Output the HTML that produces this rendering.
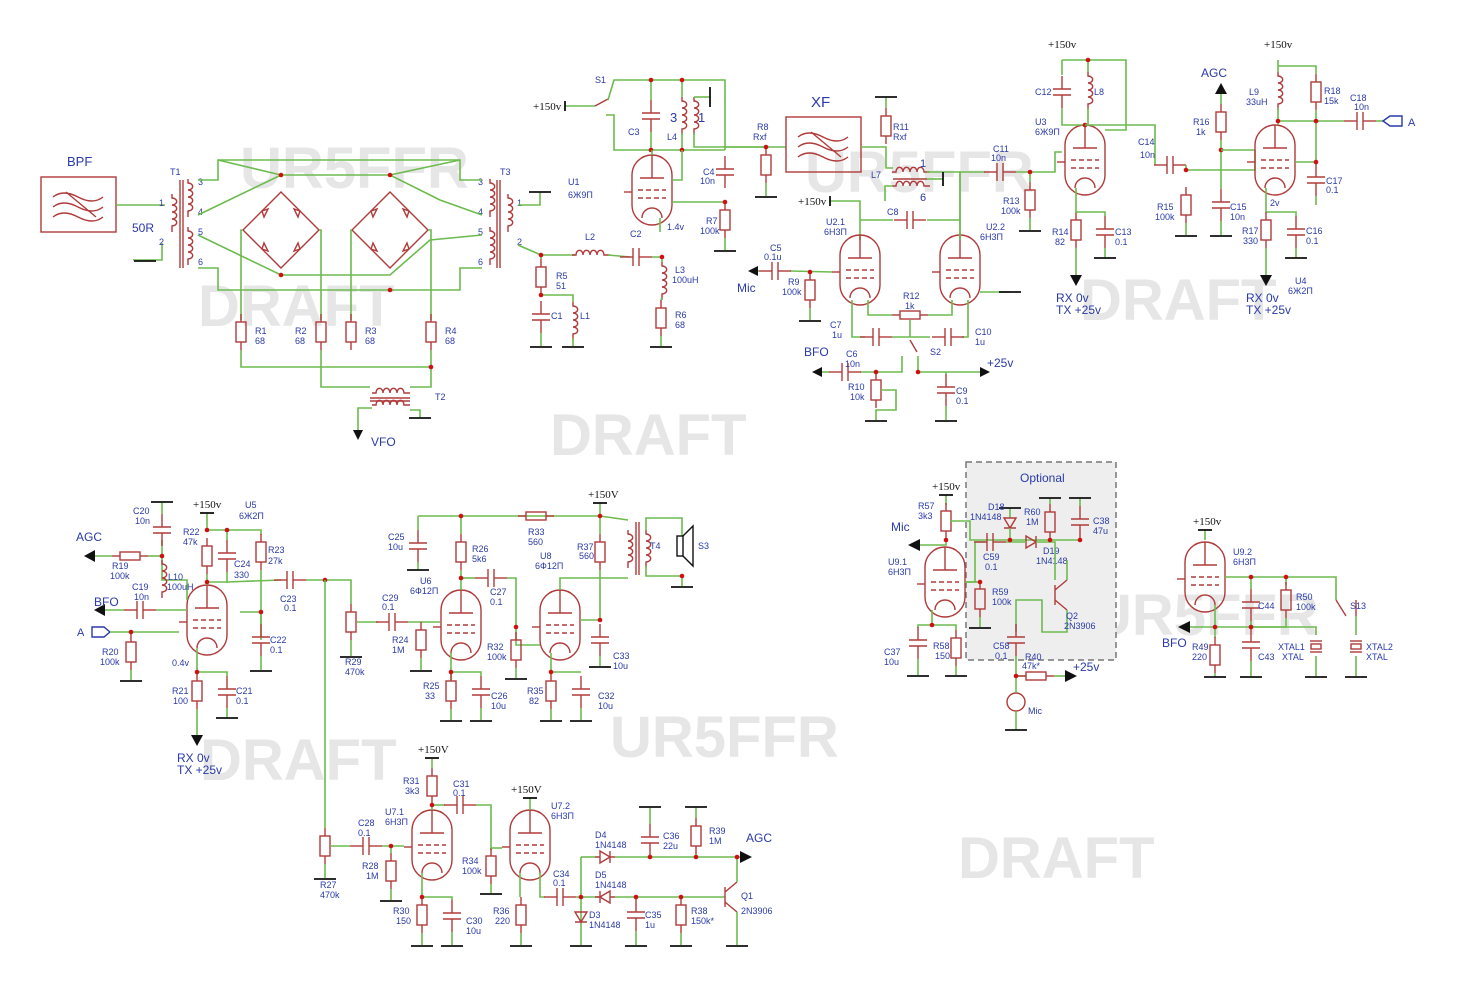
<!DOCTYPE html>
<html><head><meta charset="utf-8"><style>
html,body{margin:0;padding:0;background:#fff}
svg{display:block}
.w{stroke:#6cbb4e;stroke-width:1.6;fill:none}
.c{stroke:#b03a3a;stroke-width:1.4;fill:none}
.k{stroke:#111;stroke-width:1.8;fill:none}
.t{font-family:"Liberation Sans",sans-serif;font-size:9px;fill:#2a3aa8}
.b{font-family:"Liberation Sans",sans-serif;font-size:13px;fill:#2a3aa8}
.m{font-family:"Liberation Serif",serif;font-size:11px;fill:#111}
.wm{font-family:"Liberation Sans",sans-serif;font-size:58px;font-weight:bold;fill:#e6e6e6}
</style></head><body>
<svg width="1467" height="996" viewBox="0 0 1467 996" xmlns="http://www.w3.org/2000/svg">
<defs>
<g id="rv"><line class="c" x1="0" y1="-18" x2="0" y2="-10"/><rect class="c" x="-5" y="-10" width="10" height="20"/><line class="c" x1="0" y1="10" x2="0" y2="18"/></g>
<g id="rh"><line class="c" x1="-18" y1="0" x2="-10" y2="0"/><rect class="c" x="-10" y="-4" width="20" height="8"/><line class="c" x1="10" y1="0" x2="18" y2="0"/></g>
<g id="cv"><line class="c" x1="0" y1="-16" x2="0" y2="-3"/><line class="c" x1="-9" y1="-3" x2="9" y2="-3"/><line class="c" x1="-9" y1="3" x2="9" y2="3"/><line class="c" x1="0" y1="3" x2="0" y2="16"/></g>
<g id="ch"><line class="c" x1="-16" y1="0" x2="-3" y2="0"/><line class="c" x1="-3" y1="-9" x2="-3" y2="9"/><line class="c" x1="3" y1="-9" x2="3" y2="9"/><line class="c" x1="3" y1="0" x2="16" y2="0"/></g>
<g id="tube"><path class="c" d="M-20,-15 A20,20 0 0 1 20,-15 L20,15 A20,20 0 0 1 -20,15 Z"/><line class="c" x1="-12" y1="-12" x2="12" y2="-12"/><line class="c" x1="0" y1="-12" x2="0" y2="-35"/><line class="c" stroke-dasharray="5,3" x1="-14" y1="0" x2="14" y2="0"/><line class="c" stroke-dasharray="5,3" x1="-14" y1="8" x2="14" y2="8"/><path class="c" d="M-10,28 A10,10 0 0 1 10,28"/><line class="c" x1="-28" y1="2" x2="-20" y2="2"/></g>
<g id="gnd"><line class="k" x1="-11" y1="0" x2="11" y2="0"/></g>
<g id="lv"><path class="c" d="M0,-18 v4 a4,3 0 0 1 0,7 a4,3 0 0 1 0,7 a4,3 0 0 1 0,7 a4,3 0 0 1 0,7 v6"/></g>
<g id="lh"><path class="c" d="M-18,0 h4 a3,4 0 0 1 7,0 a3,4 0 0 1 7,0 a3,4 0 0 1 7,0 a3,4 0 0 1 7,0 h6"/></g>
<g id="dot"><circle r="2.3" fill="#d01010"/></g>
<g id="filt"><rect class="c" x="0" y="0" width="75" height="55" fill="#fff"/><path class="c" d="M12,20 q10,-8 25,0 t25,0 M12,30 q10,-8 25,0 t25,0 M12,40 q10,-8 25,0 t25,0"/><line class="c" x1="25" y1="15" x2="55" y2="40"/></g>
<g id="dia"><path class="c" d="M0,-38 L38,0 L0,38 L-38,0 Z"/><path class="c" d="M-19,-19 l6,-2 l-4,8 z M19,-19 l-6,-2 l4,8z M-19,19 l6,2 l-4,-8z M19,19 l-6,2 l4,-8z"/></g>
</defs>

<!-- watermarks -->
<text class="wm" x="240" y="188">UR5FFR</text>
<text class="wm" x="198" y="326">DRAFT</text>
<text class="wm" x="805" y="192">UR5FFR</text>
<text class="wm" x="550" y="455">DRAFT</text>
<text class="wm" x="1080" y="320">DRAFT</text>
<text class="wm" x="200" y="780">DRAFT</text>
<text class="wm" x="610" y="757">UR5FFR</text>
<text class="wm" x="1090" y="635">UR5FFR</text>
<text class="wm" x="958" y="878">DRAFT</text>

<!-- optional box -->
<rect x="966" y="462" width="150" height="198" fill="#eeeeee" stroke="#777" stroke-width="1.5" stroke-dasharray="6,4"/>
<text class="b" x="1020" y="482" style="font-size:12px">Optional</text>

<!-- ===== Section 1: BPF / mixer ===== -->
<use href="#filt" x="41" y="177"/>
<text class="b" x="67" y="166">BPF</text><text class="b" x="132" y="232" style="font-size:12px">50R</text>
<polyline class="w" points="116,205 165,205"/><polyline class="w" points="133,260 162,260 162,243"/>
<use href="#gnd" x="145" y="261"/>
<use href="#lv" x="172" y="212"/><use href="#lv" x="188" y="197"/><use href="#lv" x="188" y="245"/>
<line class="c" x1="180" y1="180" x2="180" y2="268"/><line class="c" x1="183" y1="180" x2="183" y2="268"/>
<text class="t" x="170" y="175">T1</text><text class="t" x="159" y="206">1</text><text class="t" x="159" y="245">2</text>
<text class="t" x="198" y="185">3</text><text class="t" x="198" y="215">4</text><text class="t" x="198" y="235">5</text><text class="t" x="198" y="265">6</text>
<use href="#lv" x="490" y="197"/><use href="#lv" x="490" y="245"/><use href="#lv" x="508" y="212"/>
<line class="c" x1="497" y1="180" x2="497" y2="268"/><line class="c" x1="500" y1="180" x2="500" y2="268"/>
<text class="t" x="500" y="175">T3</text><text class="t" x="478" y="185">3</text><text class="t" x="478" y="215">4</text><text class="t" x="478" y="235">5</text><text class="t" x="478" y="265">6</text><text class="t" x="517" y="206">1</text><text class="t" x="517" y="245">2</text>
<polyline class="w" points="198,180 218,180 218,160 460,160 460,180 482,180"/>
<polyline class="w" points="198,268 218,268 218,290 460,290 460,268 482,268"/>
<polyline class="w" points="198,215 281,175 390,175 440,200 482,215"/>
<polyline class="w" points="198,235 281,275 350,275 390,275 430,240 482,235"/>
<polyline class="w" points="218,160 281,175"/><polyline class="w" points="460,160 390,175"/>
<use href="#dia" x="281" y="230"/><use href="#dia" x="390" y="230"/>
<polyline class="w" points="243,230 241,230 241,320"/><polyline class="w" points="319,230 321,230 321,320"/>
<polyline class="w" points="352,230 351,230 351,320"/><polyline class="w" points="428,230 431,230 431,320"/>
<use href="#rv" x="241" y="332"/><use href="#rv" x="321" y="332"/><use href="#rv" x="351" y="332"/><use href="#rv" x="431" y="332"/>
<text class="t" x="255" y="334">R1</text><text class="t" x="255" y="344">68</text><text class="t" x="295" y="334">R2</text><text class="t" x="295" y="344">68</text>
<text class="t" x="365" y="334">R3</text><text class="t" x="365" y="344">68</text><text class="t" x="445" y="334">R4</text><text class="t" x="445" y="344">68</text>
<polyline class="w" points="241,350 241,367 431,367 431,350"/><polyline class="w" points="321,350 321,387 370,387"/><polyline class="w" points="431,367 431,387 410,387"/>
<use href="#dot" x="281" y="175"/><use href="#dot" x="390" y="175"/><use href="#dot" x="281" y="275"/><use href="#dot" x="390" y="290"/><use href="#dot" x="431" y="367"/>
<use href="#lh" x="390" y="393"/><line class="c" x1="370" y1="398" x2="410" y2="398"/><line class="c" x1="370" y1="401" x2="410" y2="401"/><use href="#lh" x="390" y="405"/>
<text class="t" x="435" y="400">T2</text>
<polyline class="w" points="372,408 358,408 358,430"/><polygon points="353,430 363,430 358,440" fill="#111"/><text class="b" x="371" y="446" style="font-size:12px">VFO</text>
<polyline class="w" points="410,410 420,410 420,418"/><use href="#gnd" x="420" y="418"/>

<!-- S1 / U1 -->
<polyline class="w" points="518,205 540,205 540,192"/><use href="#gnd" x="540" y="192"/>
<polyline class="w" points="518,245 541,255 575,255"/><use href="#lh" x="590" y="255"/>
<polyline class="w" points="608,255 630,257"/><use href="#ch" x="636" y="257"/><polyline class="w" points="652,257 662,257 662,262"/>
<text class="t" x="585" y="240">L2</text><text class="t" x="630" y="237">C2</text>
<use href="#lv" x="662" y="280"/><text class="t" x="675" y="273">L3</text><text class="t" x="672" y="283">100uH</text>
<use href="#rv" x="661" y="318"/><text class="t" x="675" y="318">R6</text><text class="t" x="675" y="328">68</text>
<polyline class="w" points="662,298 661,300"/><polyline class="w" points="661,336 661,346"/><use href="#gnd" x="661" y="347"/>
<use href="#rv" x="541" y="277"/><use href="#cv" x="541" y="317"/><use href="#lv" x="573" y="320"/>
<polyline class="w" points="541,255 541,259"/><polyline class="w" points="541,295 573,295 573,302"/>
<polyline class="w" points="541,333 541,346"/><polyline class="w" points="573,338 573,346"/><use href="#gnd" x="541" y="347"/><use href="#gnd" x="573" y="347"/>
<use href="#dot" x="541" y="255"/><use href="#dot" x="541" y="295"/><use href="#dot" x="662" y="257"/>
<text class="t" x="556" y="279">R5</text><text class="t" x="556" y="289">51</text><text class="t" x="551" y="319">C1</text><text class="t" x="580" y="319">L1</text>
<text class="m" x="533" y="110">+150v</text><polyline class="w" points="565,106 595,106"/><line class="k" x1="565" y1="101" x2="565" y2="111"/>
<line class="c" x1="595" y1="106" x2="608" y2="99"/><polyline class="w" points="606,115 614,115 614,150 725,150"/>
<text class="t" x="595" y="83">S1</text>
<polyline class="w" points="608,100 614,80 725,80 725,150"/>
<polyline class="w" points="651,80 651,100"/><use href="#cv" x="651" y="116"/><polyline class="w" points="651,132 651,150"/>
<text class="t" x="628" y="135">C3</text>
<use href="#lv" x="682" y="115"/><use href="#lv" x="694" y="115"/><polyline class="w" points="682,80 682,97"/><polyline class="w" points="682,133 682,150"/>
<polyline class="w" points="694,97 710,97"/><line class="k" x1="710" y1="87" x2="710" y2="107"/><polyline class="w" points="694,133 694,147 765,147"/>
<text class="b" x="670" y="122">3</text><text class="b" x="698" y="122">1</text><text class="t" x="667" y="140">L4</text>
<use href="#dot" x="651" y="80"/><use href="#dot" x="682" y="80"/><use href="#dot" x="651" y="150"/><use href="#dot" x="682" y="150"/>
<use href="#tube" x="652" y="190"/><polyline class="w" points="652,150 652,155"/><polyline class="w" points="682,150 682,180 672,180"/>
<polyline class="w" points="672,202 725,202"/><polyline class="w" points="660,218 660,232"/>
<text class="t" x="667" y="230">1.4v</text><text class="t" x="568" y="185">U1</text><text class="t" x="568" y="198">6Ж9П</text>
<use href="#cv" x="725" y="172"/><text class="t" x="703" y="175">C4</text><text class="t" x="700" y="184">10n</text>
<use href="#rv" x="725" y="220"/><text class="t" x="706" y="224">R7</text><text class="t" x="700" y="234">100k</text>
<polyline class="w" points="725,238 725,250"/><use href="#gnd" x="725" y="251"/><use href="#dot" x="725" y="202"/>

<!-- XF -->
<polyline class="w" points="725,147 786,147"/><use href="#rv" x="766" y="165"/><polyline class="w" points="766,183 766,196"/><use href="#gnd" x="766" y="197"/><use href="#dot" x="766" y="147"/>
<text class="t" x="757" y="130">R8</text><text class="t" x="753" y="140">Rxf</text>
<use href="#filt" x="786" y="117"/><text class="b" x="811" y="107" style="font-size:15px">XF</text>
<polyline class="w" points="861,147 886,147 886,168 893,168"/><use href="#rv" x="886" y="126"/><polyline class="w" points="886,108 886,97"/><use href="#gnd" x="886" y="97"/>
<text class="t" x="893" y="130">R11</text><text class="t" x="893" y="140">Rxf</text>
<use href="#lh" x="910" y="172"/><use href="#lh" x="910" y="186"/><line class="c" x1="893" y1="179" x2="927" y2="179"/>
<polyline class="w" points="927,172 960,172 960,240"/><polyline class="w" points="927,179 943,179"/><line class="k" x1="943" y1="172" x2="943" y2="186"/>
<text class="b" x="920" y="167" style="font-size:11px">1</text><text class="b" x="920" y="201" style="font-size:11px">6</text><text class="t" x="871" y="178">L7</text>
<text class="m" x="798" y="205">+150v</text><polyline class="w" points="830,201 860,201 860,240"/><line class="k" x1="830" y1="196" x2="830" y2="206"/>
<polyline class="w" points="893,186 885,186 885,201"/>
<use href="#tube" x="860" y="270"/><use href="#tube" x="960" y="270"/>
<polyline class="w" points="860,220 893,220"/><use href="#ch" x="910" y="220"/><polyline class="w" points="927,220 960,220"/><text class="t" x="887" y="215">C8</text>
<text class="t" x="826" y="225">U2.1</text><text class="t" x="824" y="235">6Н3П</text><text class="t" x="986" y="230">U2.2</text><text class="t" x="980" y="240">6Н3П</text>
<polyline class="w" points="980,292 1010,292"/><use href="#gnd" x="1010" y="292"/>
<polyline class="w" points="832,272 790,271"/><use href="#ch" x="775" y="271"/><polygon points="748,271 758,266 758,276" fill="#111"/><polyline class="w" points="758,271 759,271"/>
<text class="t" x="770" y="251">C5</text><text class="t" x="764" y="260">0.1u</text><text class="b" x="737" y="292" style="font-size:12px">Mic</text>
<use href="#rv" x="810" y="290"/><polyline class="w" points="810,272 810,272"/><polyline class="w" points="810,308 810,320"/><use href="#gnd" x="810" y="321"/>
<text class="t" x="788" y="285">R9</text><text class="t" x="782" y="295">100k</text><use href="#dot" x="810" y="272"/>
<polyline class="w" points="852,300 852,337 865,337"/><use href="#ch" x="876" y="337"/><polyline class="w" points="892,337 930,337"/>
<polyline class="w" points="968,300 968,337 962,337"/><use href="#ch" x="948" y="337"/>
<use href="#rh" x="910" y="315"/><polyline class="w" points="868,300 868,315 892,315"/><polyline class="w" points="928,315 952,315 952,300"/>
<polyline class="w" points="910,320 910,337"/><text class="t" x="903" y="299">R12</text><text class="t" x="905" y="309">1k</text>
<text class="t" x="830" y="328">C7</text><text class="t" x="832" y="338">1u</text><text class="t" x="975" y="335">C10</text><text class="t" x="975" y="345">1u</text>
<line class="c" x1="910" y1="340" x2="917" y2="352"/><text class="t" x="930" y="355">S2</text>
<polyline class="w" points="918,356 918,372 980,372"/><polygon points="980,367 990,372 980,377" fill="#111"/><text class="b" x="987" y="367" style="font-size:12px">+25v</text>
<use href="#cv" x="946" y="390"/><polyline class="w" points="946,372 946,374"/><polyline class="w" points="946,406 946,420"/><use href="#gnd" x="946" y="421"/>
<text class="t" x="956" y="394">C9</text><text class="t" x="956" y="404">0.1</text>
<polyline class="w" points="902,356 902,372 860,372"/><use href="#ch" x="845" y="372"/><polygon points="812,372 822,367 822,377" fill="#111"/><polyline class="w" points="822,372 829,372"/>
<text class="b" x="804" y="356" style="font-size:12px">BFO</text><text class="t" x="846" y="357">C6</text><text class="t" x="845" y="367">10n</text>
<use href="#rv" x="876" y="390"/><polyline class="w" points="876,372 876,372"/><polyline class="w" points="881,390 896,390 896,410 876,410 876,420"/><use href="#gnd" x="876" y="421"/>
<text class="t" x="848" y="390">R10</text><text class="t" x="850" y="400">10k</text><use href="#dot" x="876" y="372"/><use href="#dot" x="918" y="372"/>

<!-- U3 -->
<polyline class="w" points="960,240 960,172 985,172"/><use href="#ch" x="1000" y="172"/><polyline class="w" points="1016,172 1055,172 1055,152 1062,152"/>
<text class="t" x="993" y="152">C11</text><text class="t" x="991" y="161">10n</text>
<use href="#rv" x="1030" y="200"/><polyline class="w" points="1030,172 1030,182"/><polyline class="w" points="1030,218 1030,230"/><use href="#gnd" x="1030" y="231"/>
<text class="t" x="1003" y="204">R13</text><text class="t" x="1001" y="214">100k</text>
<use href="#tube" x="1085" y="160"/>
<text class="m" x="1048" y="48">+150v</text><polyline class="w" points="1062,60 1126,60 1126,130 1105,130"/>
<polyline class="w" points="1062,60 1062,75"/><use href="#cv" x="1062" y="92"/><polyline class="w" points="1062,108 1062,125 1085,125"/>
<use href="#lv" x="1088" y="90"/><polyline class="w" points="1088,60 1088,72"/><polyline class="w" points="1088,108 1088,125"/>
<text class="t" x="1035" y="95">C12</text><text class="t" x="1094" y="95">L8</text><text class="t" x="1035" y="125">U3</text><text class="t" x="1035" y="135">6Ж9П</text>
<use href="#dot" x="1088" y="60"/><use href="#dot" x="1085" y="125"/><use href="#dot" x="1030" y="172"/>
<polyline class="w" points="1085,125 1155,125 1155,165 1155,165"/><use href="#ch" x="1170" y="165"/><polyline class="w" points="1186,165 1186,170 1255,170 1255,150"/>
<text class="t" x="1138" y="145">C14</text><text class="t" x="1140" y="158">10n</text>
<polyline class="w" points="1076,188 1076,212"/><use href="#rv" x="1076" y="230"/><polyline class="w" points="1076,212 1105,212 1105,216"/><use href="#cv" x="1105" y="232"/>
<polyline class="w" points="1105,248 1105,258"/><use href="#gnd" x="1105" y="258"/><polyline class="w" points="1076,248 1076,275"/><polygon points="1070,275 1082,275 1076,286" fill="#111"/>
<text class="t" x="1052" y="235">R14</text><text class="t" x="1055" y="245">82</text><text class="t" x="1115" y="235">C13</text><text class="t" x="1115" y="245">0.1</text>
<text class="b" x="1056" y="302" style="font-size:12px">RX 0v</text><text class="b" x="1056" y="314" style="font-size:12px">TX +25v</text>
<use href="#rv" x="1186" y="205"/><polyline class="w" points="1186,223 1186,235"/><use href="#gnd" x="1186" y="236"/>
<text class="t" x="1157" y="210">R15</text><text class="t" x="1155" y="220">100k</text>
<use href="#cv" x="1221" y="205"/><polyline class="w" points="1221,189 1221,140"/><use href="#rv" x="1221" y="122"/><polyline class="w" points="1221,104 1221,92"/><polygon points="1215,94 1227,94 1221,83" fill="#111"/>
<polyline class="w" points="1221,221 1221,235"/><use href="#gnd" x="1221" y="236"/>
<text class="b" x="1201" y="77" style="font-size:12px">AGC</text><text class="t" x="1193" y="125">R16</text><text class="t" x="1196" y="135">1k</text>
<text class="t" x="1230" y="210">C15</text><text class="t" x="1230" y="220">10n</text>
<use href="#dot" x="1186" y="170"/><use href="#dot" x="1221" y="150"/><polyline class="w" points="1221,150 1255,150"/>
<use href="#tube" x="1275" y="160"/>
<text class="m" x="1264" y="48">+150v</text><polyline class="w" points="1278,60 1278,72"/><use href="#lv" x="1278" y="90"/><polyline class="w" points="1278,108 1278,125"/>
<polyline class="w" points="1278,66 1316,66 1316,74"/><use href="#rv" x="1316" y="92"/><polyline class="w" points="1316,110 1316,164"/>
<text class="t" x="1249" y="95">L9</text><text class="t" x="1246" y="105">33uH</text><text class="t" x="1324" y="94">R18</text><text class="t" x="1324" y="104">15k</text>
<polyline class="w" points="1278,121 1344,121"/><use href="#ch" x="1360" y="121"/><polyline class="w" points="1376,121 1383,121"/><polygon class="c" points="1383,121 1390,116 1402,116 1402,126 1390,126" style="stroke:#2a3aa8"/>
<text class="t" x="1350" y="101">C18</text><text class="t" x="1354" y="110">10n</text><text class="b" x="1408" y="126" style="font-size:11px">A</text>
<use href="#cv" x="1316" y="180"/><polyline class="w" points="1295,162 1316,162"/><polyline class="w" points="1316,196 1316,205"/><text class="t" x="1326" y="184">C17</text><text class="t" x="1326" y="193">0.1</text>
<use href="#dot" x="1278" y="121"/><use href="#dot" x="1316" y="121"/><use href="#dot" x="1316" y="162"/>
<polyline class="w" points="1266,188 1266,212 1296,212 1296,216"/><use href="#rv" x="1266" y="230"/><use href="#cv" x="1296" y="232"/>
<polyline class="w" points="1296,248 1296,258"/><use href="#gnd" x="1296" y="258"/><polyline class="w" points="1266,248 1266,275"/><polygon points="1260,275 1272,275 1266,286" fill="#111"/>
<text class="t" x="1270" y="206">2v</text><text class="t" x="1242" y="234">R17</text><text class="t" x="1243" y="244">330</text><text class="t" x="1306" y="234">C16</text><text class="t" x="1306" y="244">0.1</text>
<text class="t" x="1295" y="284">U4</text><text class="t" x="1288" y="294">6Ж2П</text>
<text class="b" x="1246" y="302" style="font-size:12px">RX 0v</text><text class="b" x="1246" y="314" style="font-size:12px">TX +25v</text>

<!-- ===== Bottom-left: U5 ===== -->
<use href="#tube" x="207" y="620"/>
<text class="m" x="193" y="508">+150v</text><polyline class="w" points="207,513 207,530"/><line class="k" x1="200" y1="513" x2="214" y2="513"/>
<use href="#rv" x="207" y="556"/><polyline class="w" points="207,574 207,585"/><polyline class="w" points="207,530 227,530 227,540"/><use href="#cv" x="227" y="556"/><polyline class="w" points="227,572 227,583"/>
<polyline class="w" points="227,530 261,530 261,535"/><use href="#rv" x="261" y="552"/><polyline class="w" points="261,570 261,640"/>
<text class="t" x="183" y="535">R22</text><text class="t" x="183" y="545">47k</text><text class="t" x="234" y="567">C24</text><text class="t" x="234" y="578">330</text>
<text class="t" x="268" y="553">R23</text><text class="t" x="268" y="564">27k</text><text class="t" x="245" y="508">U5</text><text class="t" x="239" y="519">6Ж2П</text>
<polyline class="w" points="207,582 227,582 281,580"/><use href="#ch" x="290" y="580"/><polyline class="w" points="306,580 351,580 351,604"/>
<text class="t" x="280" y="602">C23</text><text class="t" x="284" y="611">0.1</text>
<use href="#cv" x="261" y="640"/><polyline class="w" points="240,612 261,612 261,624"/><polyline class="w" points="261,656 261,670"/><use href="#gnd" x="261" y="671"/>
<text class="t" x="270" y="643">C22</text><text class="t" x="270" y="653">0.1</text>
<polyline class="w" points="162,540 162,580 187,580 187,600"/><use href="#cv" x="162" y="530"/><polyline class="w" points="162,514 162,502"/><use href="#gnd" x="162" y="502"/>
<text class="t" x="133" y="514">C20</text><text class="t" x="135" y="524">10n</text>
<use href="#lv" x="162" y="578"/><text class="t" x="168" y="580">L10</text><text class="t" x="167" y="590">100uH</text>
<use href="#rh" x="130" y="556"/><polyline class="w" points="148,556 162,556"/><polyline class="w" points="112,556 95,556"/><polygon points="95,550 95,562 84,556" fill="#111"/><text class="b" x="76" y="541" style="font-size:12px">AGC</text>
<text class="t" x="112" y="569">R19</text><text class="t" x="110" y="579">100k</text>
<use href="#ch" x="140" y="610"/><polyline class="w" points="156,610 187,610"/><polyline class="w" points="124,610 105,610"/><polygon points="105,604 105,616 94,610" fill="#111"/>
<text class="b" x="94" y="606" style="font-size:12px">BFO</text><text class="t" x="132" y="590">C19</text><text class="t" x="134" y="600">10n</text>
<polygon class="c" style="stroke:#2a3aa8" points="110,632 104,627 92,627 92,637 104,637"/><text class="b" x="77" y="636" style="font-size:11px">A</text>
<polyline class="w" points="110,632 179,632"/><use href="#rv" x="131" y="652"/><polyline class="w" points="131,670 131,680"/><use href="#gnd" x="131" y="681"/><use href="#dot" x="131" y="632"/>
<text class="t" x="102" y="655">R20</text><text class="t" x="100" y="665">100k</text>
<polyline class="w" points="197,648 197,672 227,672 227,676"/><use href="#rv" x="197" y="691"/><use href="#cv" x="227" y="692"/>
<polyline class="w" points="227,708 227,718"/><use href="#gnd" x="227" y="718"/><polyline class="w" points="197,709 197,735"/><polygon points="191,735 203,735 197,746" fill="#111"/>
<text class="t" x="172" y="666">0.4v</text><text class="t" x="172" y="694">R21</text><text class="t" x="173" y="704">100</text><text class="t" x="236" y="694">C21</text><text class="t" x="236" y="704">0.1</text>
<text class="b" x="177" y="762" style="font-size:12px">RX 0v</text><text class="b" x="177" y="774" style="font-size:12px">TX +25v</text>
<use href="#dot" x="162" y="556"/><use href="#dot" x="207" y="530"/><use href="#dot" x="227" y="530"/><use href="#dot" x="207" y="582"/><use href="#dot" x="261" y="612"/><use href="#dot" x="197" y="672"/><use href="#dot" x="325" y="580"/>
<!-- volume pots -->
<use href="#rv" x="351" y="622"/><polyline class="w" points="351,640 351,656"/><use href="#gnd" x="351" y="657"/><text class="t" x="345" y="665">R29</text><text class="t" x="345" y="675">470k</text>
<polyline class="w" points="325,580 325,828"/><use href="#rv" x="325" y="846"/><polyline class="w" points="325,864 325,878"/><use href="#gnd" x="325" y="879"/><text class="t" x="320" y="888">R27</text><text class="t" x="320" y="898">470k</text>
<polyline class="w" points="357,622 378,622"/><use href="#ch" x="392" y="622"/><polyline class="w" points="408,622 440,622"/><text class="t" x="382" y="601">C29</text><text class="t" x="382" y="610">0.1</text>
<use href="#rv" x="421" y="640"/><polyline class="w" points="421,658 421,670"/><use href="#gnd" x="421" y="671"/><text class="t" x="392" y="643">R24</text><text class="t" x="392" y="653">1M</text>
<!-- U6 U8 -->
<use href="#tube" x="461" y="625"/><use href="#tube" x="560" y="625"/>
<text class="t" x="420" y="584">U6</text><text class="t" x="410" y="594">6Ф12П</text><text class="t" x="540" y="559">U8</text><text class="t" x="535" y="569">6Ф12П</text>
<polyline class="w" points="418,516 600,516"/><polyline class="w" points="418,516 418,530"/><use href="#cv" x="418" y="546"/><polyline class="w" points="418,562 418,570"/><use href="#gnd" x="418" y="570"/>
<text class="t" x="388" y="540">C25</text><text class="t" x="388" y="550">10u</text><use href="#rh" x="536" y="516"/>
<text class="t" x="528" y="535">R33</text><text class="t" x="528" y="545">560</text>
<use href="#rv" x="461" y="552"/><polyline class="w" points="461,516 461,534"/><polyline class="w" points="461,570 461,590"/><text class="t" x="472" y="552">R26</text><text class="t" x="472" y="562">5k6</text>
<polyline class="w" points="461,578 475,578"/><use href="#ch" x="491" y="578"/><polyline class="w" points="507,578 516,578 516,645 540,645"/><text class="t" x="490" y="595">C27</text><text class="t" x="490" y="605">0.1</text>
<use href="#rv" x="516" y="650"/><polyline class="w" points="516,668 516,678"/><use href="#gnd" x="516" y="679"/><text class="t" x="487" y="650">R32</text><text class="t" x="487" y="660">100k</text>
<polyline class="w" points="451,653 451,680"/><use href="#rv" x="451" y="691"/><polyline class="w" points="451,709 451,720"/><use href="#gnd" x="451" y="721"/><text class="t" x="423" y="689">R25</text><text class="t" x="425" y="699">33</text>
<polyline class="w" points="451,672 481,672 481,676"/><use href="#cv" x="481" y="692"/><polyline class="w" points="481,708 481,720"/><use href="#gnd" x="481" y="721"/><text class="t" x="491" y="699">C26</text><text class="t" x="491" y="709">10u</text>
<polyline class="w" points="551,653 551,672 581,672"/><use href="#rv" x="551" y="691"/><use href="#cv" x="581" y="692"/><polyline class="w" points="551,709 551,720"/><polyline class="w" points="581,708 581,720"/><use href="#gnd" x="551" y="721"/><use href="#gnd" x="581" y="721"/>
<text class="t" x="527" y="694">R35</text><text class="t" x="529" y="704">82</text><text class="t" x="598" y="699">C32</text><text class="t" x="598" y="709">10u</text>
<text class="m" x="588" y="498">+150V</text><polyline class="w" points="600,503 600,516"/><line class="k" x1="593" y1="503" x2="607" y2="503"/>
<use href="#rv" x="600" y="552"/><polyline class="w" points="600,516 600,534"/><polyline class="w" points="600,570 600,620 580,620"/><text class="t" x="577" y="550">R37</text><text class="t" x="579" y="559">560</text>
<polyline class="w" points="600,516 628,520"/><polyline class="w" points="560,590 560,578 628,578"/>
<use href="#cv" x="600" y="640"/><polyline class="w" points="600,656 600,666"/><use href="#gnd" x="600" y="667"/><text class="t" x="613" y="659">C33</text><text class="t" x="613" y="669">10u</text>
<use href="#lv" x="628" y="548"/><use href="#lv" x="646" y="548"/><line class="c" x1="636" y1="522" x2="636" y2="575"/><line class="c" x1="639" y1="522" x2="639" y2="575"/>
<text class="t" x="650" y="549">T4</text>
<polyline class="w" points="646,530 646,518 682,518 682,536"/><polyline class="w" points="646,566 646,576 682,576 682,586"/><use href="#gnd" x="682" y="587"/>
<rect class="k" x="677" y="536" width="6" height="20" style="stroke-width:1.4"/><path class="k" d="M683,536 l10,-10 v40 l-10,-10" style="stroke-width:1.4"/>
<text class="t" x="698" y="549">S3</text>
<use href="#dot" x="461" y="516"/><use href="#dot" x="600" y="516"/><use href="#dot" x="461" y="578"/><use href="#dot" x="516" y="627"/><use href="#dot" x="600" y="620"/><use href="#dot" x="451" y="672"/><use href="#dot" x="551" y="672"/><use href="#dot" x="682" y="576"/>
<!-- U7 -->
<use href="#tube" x="432" y="845"/><use href="#tube" x="530" y="845"/>
<text class="m" x="418" y="753">+150V</text><polyline class="w" points="432,758 432,768"/><line class="k" x1="425" y1="758" x2="439" y2="758"/>
<use href="#rv" x="432" y="786"/><polyline class="w" points="432,804 432,810"/><text class="t" x="403" y="784">R31</text><text class="t" x="405" y="794">3k3</text>
<polyline class="w" points="432,805 445,805"/><use href="#ch" x="460" y="805"/><polyline class="w" points="476,805 491,805 491,850"/><text class="t" x="453" y="787">C31</text><text class="t" x="453" y="796">0.1</text>
<use href="#rv" x="491" y="866"/><polyline class="w" points="491,884 491,893"/><use href="#gnd" x="491" y="894"/><text class="t" x="462" y="864">R34</text><text class="t" x="462" y="874">100k</text>
<polyline class="w" points="491,848 502,848"/>
<polyline class="w" points="331,846 350,846"/><use href="#ch" x="366" y="846"/><polyline class="w" points="382,846 404,846"/><text class="t" x="358" y="826">C28</text><text class="t" x="358" y="836">0.1</text>
<use href="#rv" x="391" y="871"/><polyline class="w" points="391,846 391,853"/><polyline class="w" points="391,889 391,900"/><use href="#gnd" x="391" y="901"/><text class="t" x="362" y="869">R28</text><text class="t" x="366" y="879">1M</text>
<polyline class="w" points="422,873 422,897 452,897 452,900"/><use href="#rv" x="422" y="915"/><use href="#cv" x="452" y="916"/><polyline class="w" points="422,933 422,945"/><polyline class="w" points="452,932 452,945"/><use href="#gnd" x="422" y="946"/><use href="#gnd" x="452" y="946"/>
<text class="t" x="393" y="914">R30</text><text class="t" x="396" y="924">150</text><text class="t" x="466" y="924">C30</text><text class="t" x="466" y="934">10u</text>
<text class="t" x="385" y="815">U7.1</text><text class="t" x="385" y="825">6Н3П</text><text class="t" x="551" y="809">U7.2</text><text class="t" x="551" y="819">6Н3П</text>
<text class="m" x="511" y="793">+150V</text><polyline class="w" points="530,798 530,810"/><line class="k" x1="523" y1="798" x2="537" y2="798"/>
<polyline class="w" points="520,873 520,897 520,897"/><use href="#rv" x="521" y="915"/><polyline class="w" points="521,933 521,945"/><use href="#gnd" x="521" y="946"/><text class="t" x="493" y="914">R36</text><text class="t" x="495" y="924">220</text>
<polyline class="w" points="540,873 540,897 545,897"/><use href="#ch" x="560" y="897"/><polyline class="w" points="576,897 600,897"/><text class="t" x="553" y="877">C34</text><text class="t" x="553" y="886">0.1</text>
<polyline class="w" points="581,857 581,945"/><polyline class="w" points="581,857 595,857"/>
<path class="c" d="M595,857 h5 M600,851 v12 l10,-6 z M610,851 v12 M610,857 h5" /><text class="t" x="595" y="838">D4</text><text class="t" x="595" y="848">1N4148</text>
<path class="c" d="M595,897 h5 M610,891 v12 l-10,-6 z M600,891 v12 M610,897 h5"/><text class="t" x="595" y="878">D5</text><text class="t" x="595" y="888">1N4148</text>
<path class="c" d="M575,912 h12 l-6,10 z M575,922 h12"/><text class="t" x="589" y="918">D3</text><text class="t" x="589" y="928">1N4148</text><use href="#gnd" x="581" y="946"/>
<polyline class="w" points="615,857 740,857"/><polygon points="740,851 740,863 752,857" fill="#111"/><text class="b" x="746" y="842" style="font-size:12px">AGC</text>
<use href="#cv" x="650" y="840"/><polyline class="w" points="650,824 650,808"/><use href="#gnd" x="650" y="807"/><text class="t" x="663" y="839">C36</text><text class="t" x="663" y="849">22u</text>
<use href="#rv" x="696" y="836"/><polyline class="w" points="696,818 696,807"/><use href="#gnd" x="696" y="807"/><polyline class="w" points="696,854 696,857"/><text class="t" x="709" y="834">R39</text><text class="t" x="709" y="844">1M</text>
<polyline class="w" points="615,897 725,897"/><use href="#cv" x="636" y="915"/><use href="#rv" x="681" y="915"/><polyline class="w" points="636,931 636,945"/><polyline class="w" points="681,933 681,945"/><use href="#gnd" x="636" y="946"/><use href="#gnd" x="681" y="946"/>
<text class="t" x="645" y="918">C35</text><text class="t" x="645" y="928">1u</text><text class="t" x="691" y="914">R38</text><text class="t" x="691" y="924">150k*</text>
<line class="c" x1="725" y1="887" x2="725" y2="907"/><line class="c" x1="725" y1="892" x2="737" y2="882"/><line class="c" x1="725" y1="902" x2="737" y2="912"/>
<polyline class="w" points="737,882 737,857"/><polyline class="w" points="737,912 737,945"/><use href="#gnd" x="737" y="946"/><text class="t" x="741" y="899">Q1</text><text class="t" x="741" y="914">2N3906</text>
<use href="#dot" x="432" y="805"/><use href="#dot" x="391" y="846"/><use href="#dot" x="422" y="897"/><use href="#dot" x="581" y="897"/><use href="#dot" x="650" y="857"/><use href="#dot" x="696" y="857"/><use href="#dot" x="636" y="897"/><use href="#dot" x="681" y="897"/><use href="#dot" x="737" y="857"/>

<!-- ===== Right-bottom: U9.1 optional ===== -->
<text class="m" x="932" y="490">+150v</text><polyline class="w" points="946,495 946,505"/><line class="k" x1="939" y1="495" x2="953" y2="495"/>
<use href="#rv" x="946" y="521"/><text class="t" x="918" y="509">R57</text><text class="t" x="918" y="519">3k3</text>
<polyline class="w" points="950,521 970,521 970,540 1080,540"/><polyline class="w" points="946,539 946,545 920,545"/><polygon points="920,539 920,551 908,545" fill="#111"/><text class="b" x="891" y="531" style="font-size:12px">Mic</text>
<use href="#tube" x="945" y="582"/><text class="t" x="888" y="565">U9.1</text><text class="t" x="888" y="575">6Н3П</text>
<polyline class="w" points="1010,508 1010,518"/><path class="c" d="M1004,518 h12 l-6,10 z M1004,528 h12"/><polyline class="w" points="1010,528 1010,540"/><use href="#gnd" x="1010" y="508"/>
<text class="t" x="988" y="510">D18</text><text class="t" x="970" y="520">1N4148</text>
<use href="#rv" x="1050" y="522"/><polyline class="w" points="1050,504 1050,498"/><use href="#gnd" x="1050" y="498"/><text class="t" x="1024" y="515">R60</text><text class="t" x="1026" y="525">1M</text>
<use href="#cv" x="1080" y="522"/><polyline class="w" points="1080,506 1080,498"/><use href="#gnd" x="1080" y="498"/><text class="t" x="1093" y="524">C38</text><text class="t" x="1093" y="534">47u</text>
<path class="c" d="M1026,536 v12 l10,-6 z M1036,536 v12"/><text class="t" x="1043" y="554">D19</text><text class="t" x="1036" y="564">1N4148</text>
<polyline class="w" points="965,582 975,582 975,542 985,542"/><use href="#ch" x="990" y="542"/><polyline class="w" points="1006,542 1026,542"/><polyline class="w" points="1036,542 1055,542 1055,580"/>
<text class="t" x="983" y="560">C59</text><text class="t" x="985" y="570">0.1</text>
<use href="#rv" x="980" y="599"/><polyline class="w" points="965,582 980,582"/><polyline class="w" points="980,617 980,627"/><use href="#gnd" x="980" y="628"/><text class="t" x="992" y="595">R59</text><text class="t" x="992" y="605">100k</text>
<line class="c" x1="1055" y1="585" x2="1055" y2="605"/><line class="c" x1="1055" y1="590" x2="1067" y2="580"/><line class="c" x1="1055" y1="600" x2="1067" y2="610"/>
<polyline class="w" points="1067,580 1067,560"/><polyline class="w" points="1067,610 1067,632 1042,632 1042,600 1016,600 1016,632"/><text class="t" x="1066" y="619">Q2</text><text class="t" x="1064" y="629">2N3906</text>
<use href="#cv" x="1016" y="640"/><polyline class="w" points="1016,656 1016,676 1026,676"/><text class="t" x="993" y="649">C58</text><text class="t" x="995" y="659">0.1</text>
<use href="#rh" x="1036" y="676"/><polyline class="w" points="1054,676 1065,676"/><polygon points="1065,670 1065,682 1077,676" fill="#111"/><text class="b" x="1073" y="671" style="font-size:12px">+25v</text>
<text class="t" x="1025" y="660">R40</text><text class="t" x="1022" y="669">47k*</text>
<circle class="c" cx="1016" cy="702" r="9"/><polyline class="w" points="1016,676 1016,693"/><polyline class="w" points="1016,711 1016,730"/><use href="#gnd" x="1016" y="730"/><text class="t" x="1028" y="714">Mic</text>
<polyline class="w" points="932,610 932,625 918,625 918,628"/><use href="#cv" x="918" y="643"/><polyline class="w" points="918,659 918,675"/><use href="#gnd" x="918" y="676"/><text class="t" x="884" y="655">C37</text><text class="t" x="884" y="665">10u</text>
<polyline class="w" points="932,625 956,625 956,630"/><use href="#rv" x="956" y="648"/><polyline class="w" points="956,666 956,675"/><use href="#gnd" x="956" y="676"/><text class="t" x="933" y="649">R58</text><text class="t" x="935" y="659">150</text>
<use href="#dot" x="946" y="540"/><use href="#dot" x="1010" y="540"/><use href="#dot" x="1050" y="540"/><use href="#dot" x="1080" y="540"/><use href="#dot" x="980" y="582"/><use href="#dot" x="932" y="625"/><use href="#dot" x="1016" y="676"/>

<!-- U9.2 -->
<text class="m" x="1193" y="525">+150v</text><polyline class="w" points="1205,530 1205,540"/><line class="k" x1="1198" y1="530" x2="1212" y2="530"/>
<use href="#tube" x="1205" y="577"/><text class="t" x="1233" y="555">U9.2</text><text class="t" x="1233" y="565">6Н3П</text>
<polyline class="w" points="1225,577 1336,577 1336,600"/><polyline class="w" points="1286,577 1286,585"/><use href="#rv" x="1286" y="600"/><polyline class="w" points="1286,618 1286,627 1215,627"/>
<text class="t" x="1296" y="600">R50</text><text class="t" x="1296" y="610">100k</text>
<use href="#cv" x="1251" y="605"/><polyline class="w" points="1251,589 1251,577"/><polyline class="w" points="1251,621 1251,627"/><text class="t" x="1258" y="609">C44</text>
<polyline class="w" points="1215,605 1215,638"/><polyline class="w" points="1215,627 1190,627"/><polygon points="1190,621 1190,633 1178,627" fill="#111"/><text class="b" x="1162" y="647" style="font-size:12px">BFO</text>
<use href="#rv" x="1215" y="655"/><polyline class="w" points="1215,673 1215,677"/><use href="#gnd" x="1215" y="677"/><text class="t" x="1192" y="650">R49</text><text class="t" x="1192" y="660">220</text>
<use href="#cv" x="1251" y="645"/><polyline class="w" points="1251,661 1251,677"/><use href="#gnd" x="1251" y="677"/><text class="t" x="1258" y="660">C43</text>
<polyline class="w" points="1251,627 1316,627 1316,635"/><line class="c" x1="1310" y1="641" x2="1322" y2="641"/><rect class="c" x="1311" y="644" width="10" height="5"/><line class="c" x1="1310" y1="652" x2="1322" y2="652"/><polyline class="w" points="1316,656 1316,677"/><use href="#gnd" x="1316" y="677"/>
<text class="t" x="1278" y="650">XTAL1</text><text class="t" x="1282" y="660">XTAL</text>
<line class="c" x1="1336" y1="600" x2="1346" y2="616"/><line class="c" x1="1356" y1="600" x2="1356" y2="616"/><text class="t" x="1350" y="609">S13</text>
<polyline class="w" points="1356,616 1356,635"/><line class="c" x1="1350" y1="641" x2="1362" y2="641"/><rect class="c" x="1351" y="644" width="10" height="5"/><line class="c" x1="1350" y1="652" x2="1362" y2="652"/><polyline class="w" points="1356,656 1356,677"/><use href="#gnd" x="1356" y="677"/>
<text class="t" x="1366" y="650">XTAL2</text><text class="t" x="1366" y="660">XTAL</text>
<use href="#dot" x="1286" y="577"/><use href="#dot" x="1251" y="577"/><use href="#dot" x="1215" y="627"/><use href="#dot" x="1251" y="627"/>
</svg>
</body></html>
